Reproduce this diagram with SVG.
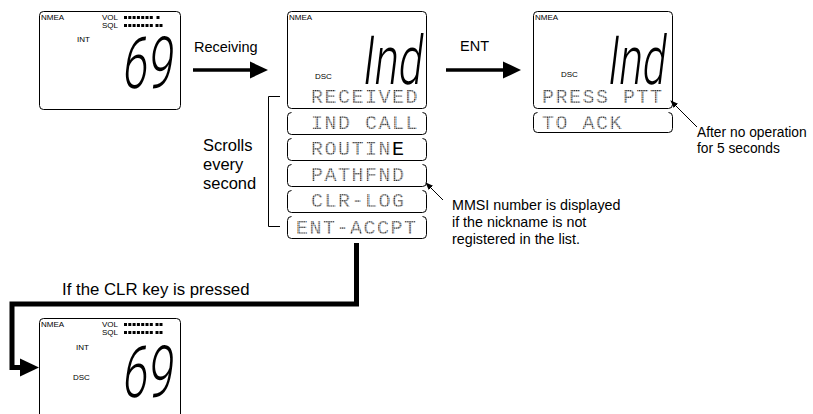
<svg xmlns="http://www.w3.org/2000/svg" width="813" height="414" viewBox="0 0 813 414">
<style>
.lcd{fill:#fff;stroke:#000;stroke-width:1}
.sub{fill:none;stroke:#000;stroke-width:1}
.sm{font-family:"Liberation Sans",Arial,sans-serif;font-size:8px;fill:#000}
.lbl{font-family:"Liberation Sans",Arial,sans-serif;fill:#000}
.seg{font-family:Roboto,"DejaVu Sans",sans-serif;font-weight:300;fill:#000}
.dm{font-family:"Liberation Mono","DejaVu Sans Mono",monospace;font-size:20px;letter-spacing:1.5px;fill:url(#dots)}
.bar{stroke:#000;stroke-width:3;stroke-dasharray:3 1.3}
.thin{fill:none;stroke:#000;stroke-width:1}
.thick{fill:none;stroke:#000}
</style>
<defs>
<pattern id="dots" patternUnits="userSpaceOnUse" width="1.8" height="1.8">
<rect x="0" y="0" width="1.3" height="1.3" fill="#222"/>
</pattern>
<marker id="ah" markerWidth="8" markerHeight="6" refX="7" refY="3" orient="auto" markerUnits="userSpaceOnUse">
<path d="M0,0 L8,3 L0,6 Z" fill="#000"/>
</marker>
</defs>

<g id="lcd-initial">
<rect class="lcd" x="39.5" y="11.5" width="141" height="98" rx="4"/>
<text class="sm" x="41" y="20">NMEA</text>
<text class="sm" x="102" y="20">VOL</text>
<text class="sm" x="102" y="28">SQL</text>
<line class="bar" x1="124" y1="17.5" x2="153" y2="17.5"/>
<rect x="156.5" y="16" width="3" height="3"/>
<line class="bar" x1="124" y1="25.5" x2="153" y2="25.5"/>
<rect x="155.5" y="24" width="3" height="3"/>
<rect x="159.5" y="24" width="3" height="3"/>
<text class="sm" x="77" y="42">INT</text>
<text class="seg" font-size="72" transform="translate(121,88) skewX(-7) scale(0.63,1)">69</text>
</g>

<g id="lcd-received">
<rect class="lcd" x="287.5" y="11.5" width="139" height="97" rx="4"/>
<text class="sm" x="289" y="20">NMEA</text>
<text class="sm" x="315" y="79">DSC</text>
<text class="seg" font-size="68" transform="translate(361,84) skewX(-7) scale(0.64,1)">Ind</text>
<text class="dm" x="311" y="103">RECEIVED</text>
</g>

<g id="row-indcall">
<path class="sub" d="M291.5 112.5 Q287.5 112.5 287.5 116.5 V130.5 Q287.5 134.5 291.5 134.5 H422.5 Q426.5 134.5 426.5 130.5 V116.5 Q426.5 112.5 422.5 112.5"/>
<text class="dm" x="311" y="129">IND CALL</text>
</g>
<g id="row-routine">
<path class="sub" d="M291.5 138.5 Q287.5 138.5 287.5 142.5 V156.5 Q287.5 160.5 291.5 160.5 H422.5 Q426.5 160.5 426.5 156.5 V142.5 Q426.5 138.5 422.5 138.5"/>
<text class="dm" x="311" y="155">ROUTIN<tspan fill="#000">E</tspan></text>
</g>
<g id="row-pathfnd">
<path class="sub" d="M291.5 164.5 Q287.5 164.5 287.5 168.5 V182.5 Q287.5 186.5 291.5 186.5 H422.5 Q426.5 186.5 426.5 182.5 V168.5 Q426.5 164.5 422.5 164.5"/>
<text class="dm" x="311" y="181">PATHFND</text>
</g>
<g id="row-clrlog">
<path class="sub" d="M291.5 190.5 Q287.5 190.5 287.5 194.5 V208.5 Q287.5 212.5 291.5 212.5 H422.5 Q426.5 212.5 426.5 208.5 V194.5 Q426.5 190.5 422.5 190.5"/>
<text class="dm" x="311" y="207">CLR-LOG</text>
</g>
<g id="row-entaccpt">
<path class="sub" d="M291.5 216.5 Q287.5 216.5 287.5 220.5 V234.5 Q287.5 238.5 291.5 238.5 H422.5 Q426.5 238.5 426.5 234.5 V220.5 Q426.5 216.5 422.5 216.5"/>
<text class="dm" x="296" y="234">ENT-ACCPT</text>
</g>

<g id="lcd-pressptt">
<rect class="lcd" x="533.5" y="11.5" width="139" height="97" rx="4"/>
<text class="sm" x="535" y="20">NMEA</text>
<text class="sm" x="561" y="77">DSC</text>
<text class="seg" font-size="68" transform="translate(606,84) skewX(-7) scale(0.62,1)">Ind</text>
<text class="dm" x="542" y="103">PRESS PTT</text>
</g>
<g id="row-toack">
<path class="sub" d="M537.5 112.5 Q533.5 112.5 533.5 116.5 V128.5 Q533.5 132.5 537.5 132.5 H668.5 Q672.5 132.5 672.5 128.5 V116.5 Q672.5 112.5 668.5 112.5"/>
<text class="dm" x="542" y="129">TO ACK</text>
</g>

<g id="lcd-return">
<rect class="lcd" x="39.5" y="318.5" width="141" height="110" rx="4"/>
<text class="sm" x="41" y="327">NMEA</text>
<text class="sm" x="102" y="327">VOL</text>
<text class="sm" x="102" y="335">SQL</text>
<line class="bar" x1="124" y1="324.5" x2="153" y2="324.5"/>
<rect x="155.5" y="323" width="3" height="3"/>
<rect x="159.5" y="323" width="3" height="3"/>
<line class="bar" x1="124" y1="332.5" x2="153" y2="332.5"/>
<rect x="155.5" y="331" width="3" height="3"/>
<rect x="159.5" y="331" width="3" height="3"/>
<text class="sm" x="76" y="350">INT</text>
<text class="sm" x="73" y="380">DSC</text>
<text class="seg" font-size="72" transform="translate(121,397) skewX(-7) scale(0.63,1)">69</text>
</g>

<g id="connectors">
<line class="thick" x1="193" y1="70" x2="252" y2="70" stroke-width="3.5"/>
<polygon points="250,61.5 268,70 250,78.5"/>
<line class="thick" x1="446" y1="70" x2="505" y2="70" stroke-width="3.5"/>
<polygon points="503,61.5 521,70 503,78.5"/>
<path class="thick" d="M356.5 243 V304 H12 V367.5 H22" stroke-width="5"/>
<polygon points="20,358.5 39,367.5 20,376.5"/>
<path class="thin" d="M280 96.5 H268.5 V226.5 H280"/>
<line class="thin" x1="443" y1="200" x2="426" y2="183" marker-end="url(#ah)"/>
<line class="thin" x1="697" y1="127" x2="671" y2="101" marker-end="url(#ah)"/>
</g>

<g id="labels">
<text class="lbl" font-size="14.5" x="194" y="52">Receiving</text>
<text class="lbl" font-size="14.5" x="460" y="51">ENT</text>
<text class="lbl" font-size="16.5" x="203" y="151">Scrolls</text>
<text class="lbl" font-size="16.5" x="203" y="170">every</text>
<text class="lbl" font-size="16.5" x="203" y="189">second</text>
<text class="lbl" font-size="14.3" x="452" y="210">MMSI number is displayed</text>
<text class="lbl" font-size="14.3" x="452" y="227">if the nickname is not</text>
<text class="lbl" font-size="14.3" x="452" y="244">registered in the list.</text>
<text class="lbl" font-size="13.8" x="697" y="137">After no operation</text>
<text class="lbl" font-size="13.8" x="697" y="153">for 5 seconds</text>
<text class="lbl" font-size="16.8" x="62" y="295">If the CLR key is pressed</text>
</g>
</svg>
